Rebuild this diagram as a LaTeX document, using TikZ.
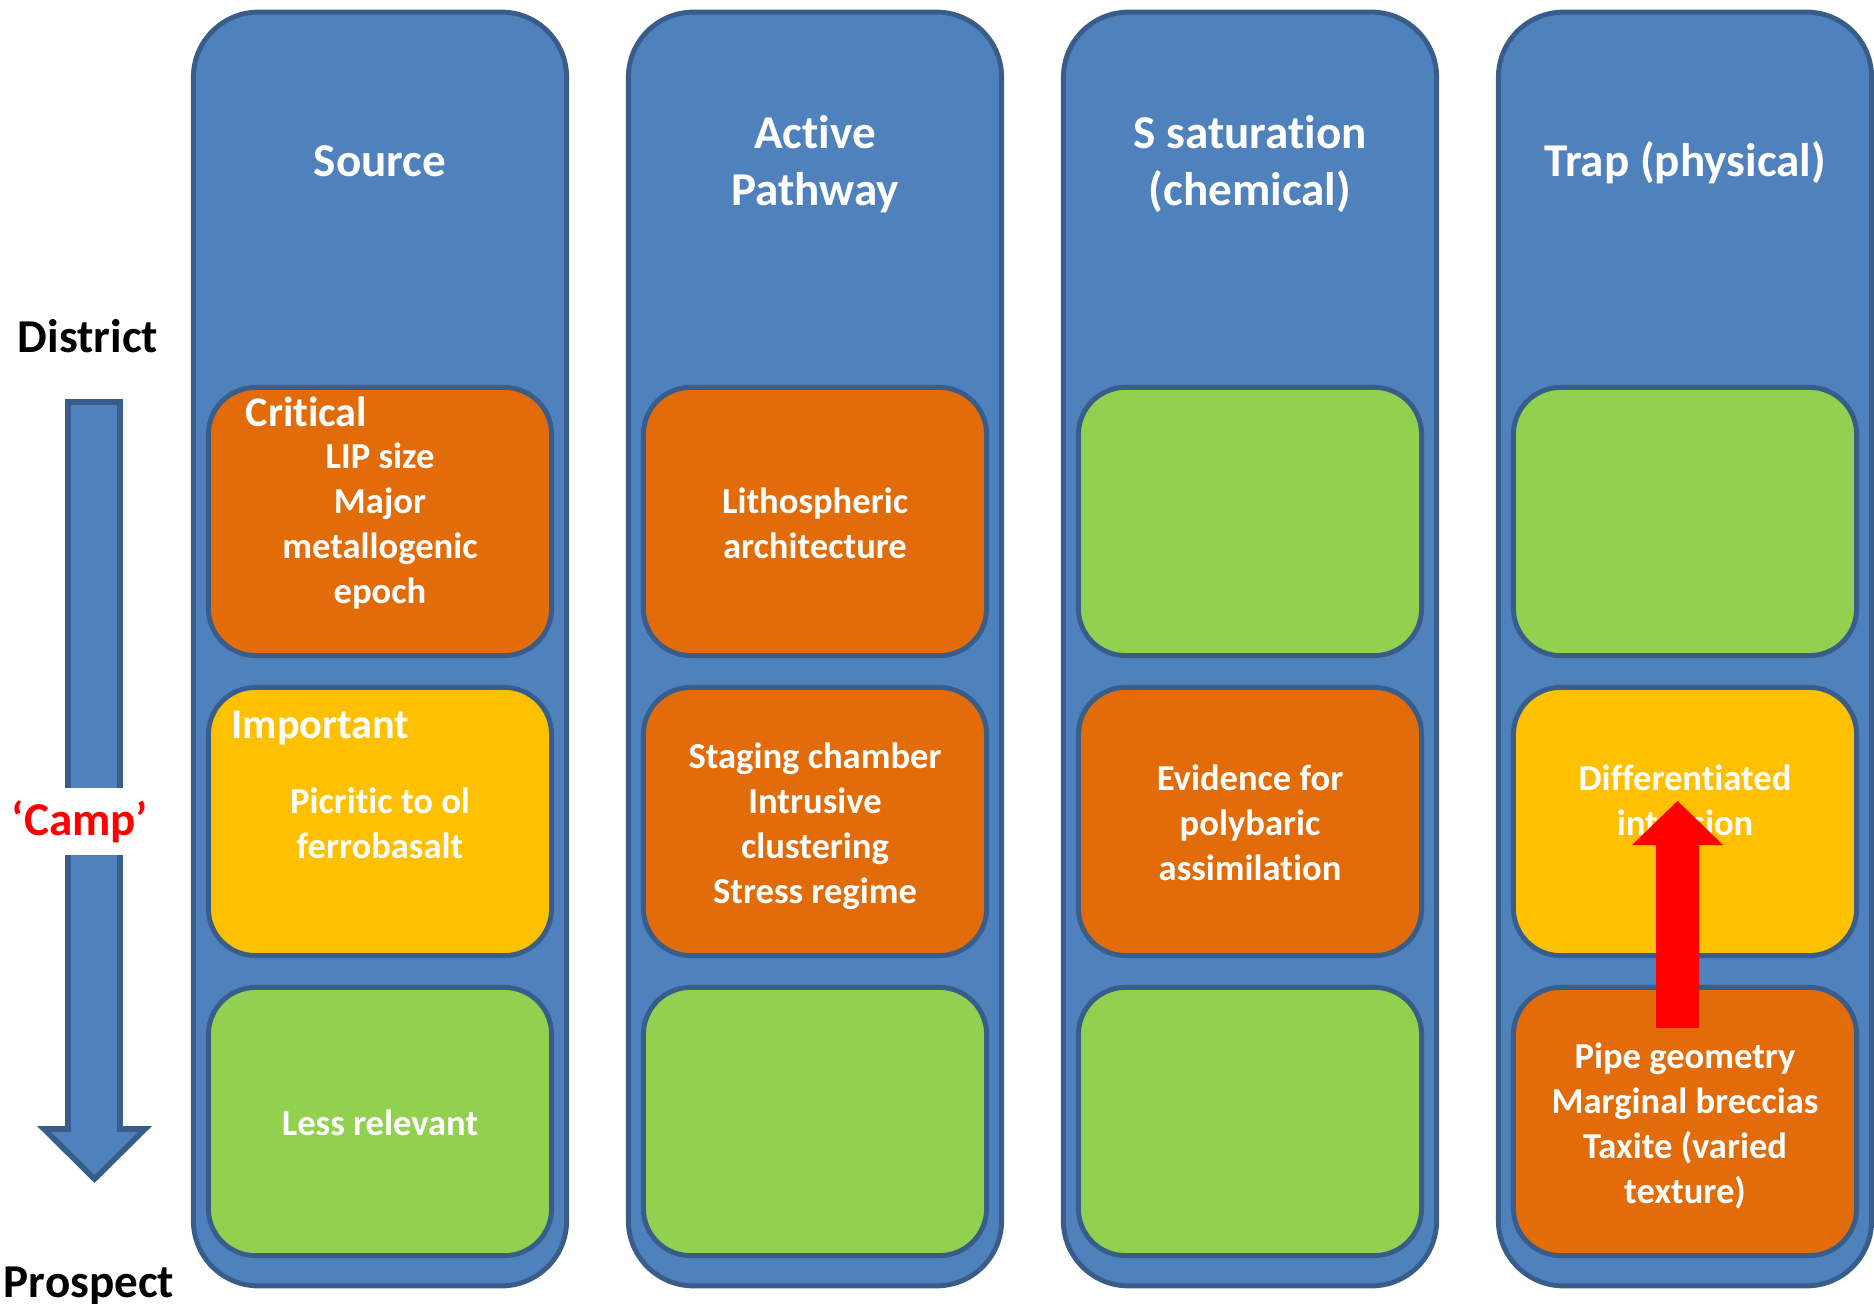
\documentclass[tikz,border=0pt]{standalone}
\usepackage{fontspec}
\setmainfont{Carlito}[Ligatures={TeX,NoCommon}]
\usepackage{tikz}
\definecolor{colfill}{HTML}{4F81BD}
\definecolor{colline}{HTML}{385D8A}
\definecolor{critorange}{HTML}{E36C0A}
\definecolor{impyellow}{HTML}{FFC000}
\definecolor{lessgreen}{HTML}{92D050}
\definecolor{arrowred}{HTML}{FF0000}
% struts so that every text block is centred on its lines, not on its ink
\newcommand\celltop{\vrule height 11.2pt depth 0pt width 0pt}
\newcommand\cellbot{\vrule height 0pt depth 3pt width 0pt}
\newcommand\headtop{\vrule height 12.6pt depth 0pt width 0pt}
\newcommand\headbot{\vrule height 0pt depth 3.5pt width 0pt}

\begin{document}
\begin{tikzpicture}[x=0.01cm,y=-0.01cm,
  col/.style={draw=colline, line width=1.4pt, fill=colfill, rounded corners=0.65cm, minimum width=3.73cm, minimum height=12.73cm},
  cel/.style={draw=colline, line width=1.4pt, rounded corners=0.47cm, minimum width=3.43cm, minimum height=2.68cm, align=center, text=white,
    font=\fontsize{10.4}{12.8}\selectfont\bfseries},
  hd/.style={text=white, align=center, font=\fontsize{13.4}{16.2}\selectfont\bfseries},
  tag/.style={text=white, anchor=base west, inner sep=0pt, font=\fontsize{12}{14}\selectfont\bfseries},
  lvl/.style={anchor=base, inner sep=0pt, font=\fontsize{13.4}{16}\selectfont\bfseries}]
  \useasboundingbox (0,0) rectangle (1874,1304);
  % columns with their headings
  \foreach \c/\t in {0/Source, 1/{Active\\Pathway}, 2/{S saturation\\(chemical)}, 3/{Trap (physical)}}{
    \node[col] (col\c) at (380+\c*435,649) {};
    \node[hd] (hd\c) at (380+\c*435,161) {\headtop\t\headbot};}
  % rows: critical / important / less relevant
  \foreach \c/\r/\f/\t in {0/0/critorange/{LIP size\\Major\\metallogenic\\epoch}, 0/1/impyellow/{Picritic to ol\\ferrobasalt}, 0/2/lessgreen/{Less relevant},
    1/0/critorange/{Lithospheric\\architecture}, 1/1/critorange/{Staging chamber\\Intrusive\\clustering\\Stress regime}, 1/2/lessgreen/{},
    2/0/lessgreen/{}, 2/1/critorange/{Evidence for\\polybaric\\assimilation}, 2/2/lessgreen/{},
    3/0/lessgreen/{}, 3/1/impyellow/{Differentiated\\intrusion\\~}, 3/2/critorange/{Pipe geometry\\Marginal breccias\\Taxite (varied\\texture)}}{
    \node[cel, fill=\f] (b\c\r) at (380+\c*435,521.5+\r*300) {\celltop\t\cellbot};}
  \node[tag] (crit) at (245,427) {Critical};
  \node[tag] (imp) at (231,738) {Important};
  % scale arrow on the left
  \node[lvl] (district) at (88,353) {District};
  \node[lvl] (prospect) at (89,1297) {Prospect};
  \draw[colline, line width=1.6pt, fill=colfill] (68,402) -- (120,402) -- (120,1129) -- (145,1129) -- (94.5,1179) -- (44,1129) -- (68,1129) -- cycle;
  \node[lvl, text=arrowred, fill=white, text height=0.42cm, text depth=0.15cm, inner ysep=0.05cm] (camp) at (80,835) {‘Camp’};
  % red arrow in the trap column
  \fill[arrowred] (1656,1028) -- (1699,1028) -- (1699,845) -- (1723,845) -- (1677.5,801) -- (1632,845) -- (1656,845) -- cycle;
\end{tikzpicture}
\end{document}
